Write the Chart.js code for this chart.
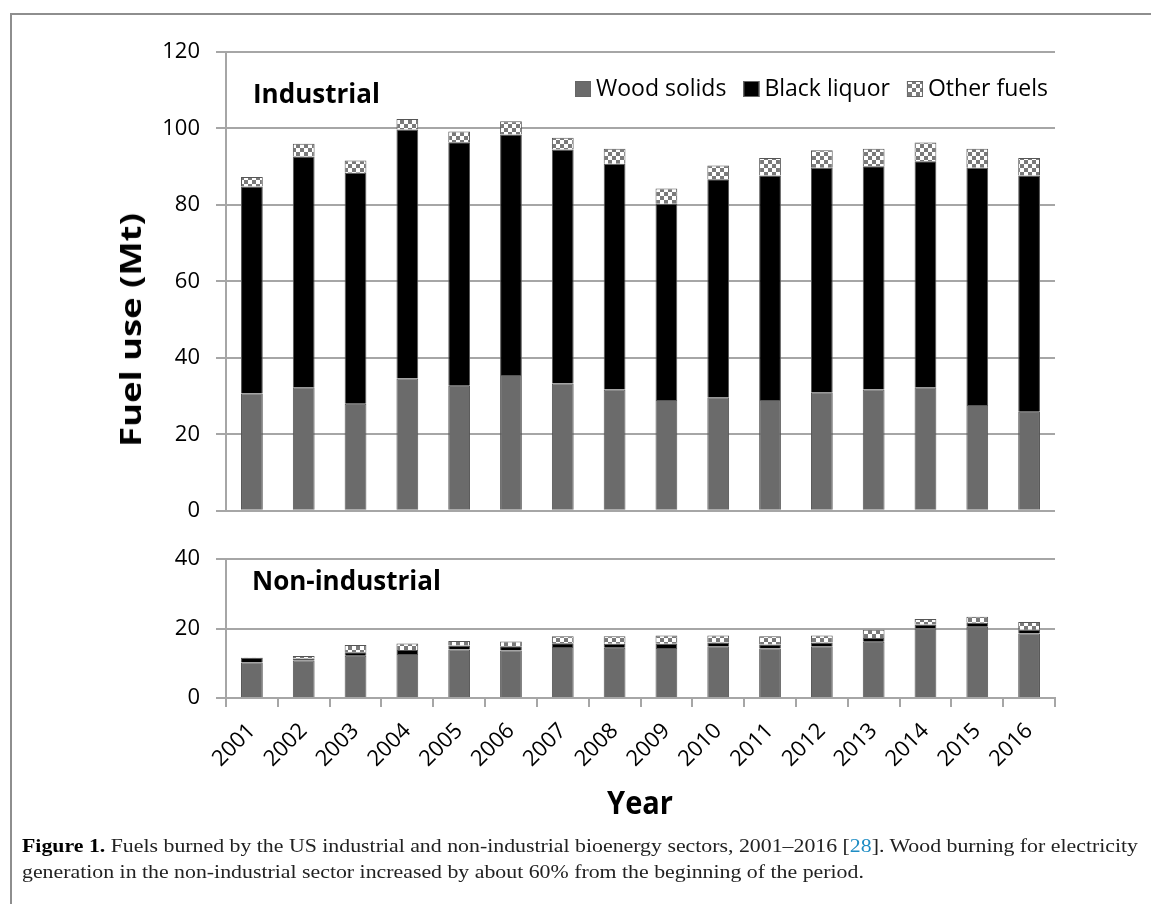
<!DOCTYPE html>
<html>
<head>
<meta charset="utf-8">
<script src="https://cdn.jsdelivr.net/npm/chart.js@4.4.1/dist/chart.umd.min.js"></script>
<style>
  body { margin: 0; background: #fff; width: 1151px; height: 904px; overflow: hidden; position: relative; font-family: "Open Sans", sans-serif; }
  #frame { position: absolute; left: 10px; top: 13px; right: -10px; bottom: -10px; border-top: 2px solid #8e8e8e; border-left: 2px solid #8e8e8e; }
  canvas { position: absolute; left: 0; }
  #topChart { top: 0; }
  #bottomChart { top: 530px; }
  .lbl { position: absolute; font-weight: 700; color: #000; white-space: nowrap; line-height: 1; }
  #ytitle { left: 130px; top: 330px; font-size: 28px; transform: translate(-50%, -50%) rotate(-90deg) scaleX(1.3); }
  #xtitle { left: 640px; top: 787px; font-size: 29px; transform: translateX(-50%) scaleY(1.1); }
  #caption { position: absolute; left: 22px; top: 833px; font-family: "Liberation Serif", serif; font-size: 19px; line-height: 26px; color: #222; transform-origin: 0 0; white-space: nowrap; }
  #caption b { color: #000; }
  #caption .ref { color: #1f8dc4; }
</style>
</head>
<body>
<div id="frame"></div>
<canvas id="topChart" width="1151" height="540"></canvas>
<canvas id="bottomChart" width="1151" height="374"></canvas>
<div class="lbl" style="left:253px;top:80px;font-size:26px">Industrial</div>
<div class="lbl" style="left:252px;top:567px;font-size:26px">Non-industrial</div>
<div class="lbl" id="ytitle">Fuel use (Mt)</div>
<div class="lbl" id="xtitle">Year</div>
<div id="caption">
  <div id="cap1"><b>Figure 1.</b> Fuels burned by the US industrial and non-industrial bioenergy sectors, 2001–2016 [<span class="ref">28</span>]. Wood burning for electricity</div>
  <div>generation in the non-industrial sector increased by about 60% from the beginning of the period.</div>
</div>
<script>
const years = ["2001", "2002", "2003", "2004", "2005", "2006", "2007", "2008",
  "2009", "2010", "2011", "2012", "2013", "2014", "2015", "2016"];

// Industrial sector (Mt)
const indWood = [30.7, 32.3, 28.0, 34.6, 32.7, 35.5, 33.3, 31.7, 29.0, 29.7, 29.0, 31.0, 31.7, 32.3, 27.7, 25.9];
const indBlack = [54.1, 60.4, 60.4, 65.1, 63.7, 62.9, 61.2, 59.1, 51.3, 57.0, 58.7, 58.7, 58.4, 59.1, 62.0, 61.8];
const indOther = [2.5, 3.3, 3.2, 2.8, 2.8, 3.5, 3.1, 3.9, 4.0, 3.6, 4.6, 4.6, 4.6, 4.9, 5.0, 4.6];

// Non-industrial sector (Mt)
const nonWood = [10.2, 10.8, 12.2, 12.7, 14.0, 13.7, 14.7, 14.5, 14.4, 14.9, 14.3, 14.9, 16.2, 20.1, 20.5, 18.6];
const nonBlack = [1.4, 0.6, 1.0, 1.1, 1.1, 1.2, 1.1, 1.1, 1.2, 1.1, 1.1, 1.1, 1.1, 1.1, 1.2, 1.1];
const nonOther = [0.1, 0.7, 2.1, 1.9, 1.3, 1.4, 2.0, 2.2, 2.4, 2.0, 2.4, 2.0, 2.4, 1.6, 1.7, 2.2];

const seriesNames = ["Wood solids", "Black liquor", "Other fuels"];
const topTicks = { min: 0, max: 120, step: 20 };
const bottomTicks = { min: 0, max: 40, step: 20 };

const GRID = "#a6a6a6";
const FONT = "'Open Sans', sans-serif";

function checker() {
  const c = document.createElement("canvas");
  c.width = c.height = 8;
  const g = c.getContext("2d");
  g.fillStyle = "#fff";
  g.fillRect(0, 0, 8, 8);
  g.fillStyle = "#7a7a7a";
  g.fillRect(0, 0, 4, 4);
  g.fillRect(4, 4, 4, 4);
  return g.createPattern(c, "repeat");
}
const pattern = checker();
const fills = ["#6b6b6b", "#000000", pattern];

function datasets(wood, black, other) {
  return [wood, black, other].map((d, i) => ({
    label: seriesNames[i],
    data: d,
    backgroundColor: fills[i],
    borderColor: "#555",
    borderWidth: 1,
    barPercentage: 0.42,
    categoryPercentage: 1.0,
  }));
}

// legend drawn inside the plot area, read from the datasets
const innerLegend = {
  id: "innerLegend",
  afterDraw(chart, args, opts) {
    if (!opts.show) return;
    const ctx = chart.ctx;
    ctx.save();
    ctx.font = `23px ${FONT}`;
    ctx.textBaseline = "alphabetic";
    let x = opts.x;
    chart.data.datasets.forEach((ds) => {
      ctx.fillStyle = ds.backgroundColor;
      ctx.fillRect(x, opts.y - 15, 16, 16);
      ctx.strokeStyle = "#666";
      ctx.lineWidth = 1;
      ctx.strokeRect(x + 0.5, opts.y - 14.5, 15, 15);
      ctx.fillStyle = "#000";
      ctx.fillText(ds.label, x + 21, opts.y);
      x += 21 + ctx.measureText(ds.label).width + 17;
    });
    ctx.restore();
  },
};

function yScale(t, width) {
  return {
    stacked: true,
    min: t.min,
    max: t.max,
    afterFit: (s) => { s.width = width; },
    ticks: { stepSize: t.step, color: "#000", font: { family: FONT, size: 22 }, padding: 16 },
    grid: { color: GRID, lineWidth: 2, tickLength: 10, drawTicks: true },
    border: { display: true, color: GRID, width: 2 },
  };
}

new Chart(document.getElementById("topChart"), {
  type: "bar",
  data: { labels: years, datasets: datasets(indWood, indBlack, indOther) },
  plugins: [innerLegend],
  options: {
    responsive: false,
    animation: false,
    layout: { padding: { top: 52, bottom: 27, right: 96, left: 0 } },
    plugins: {
      legend: { display: false },
      tooltip: { enabled: false },
      innerLegend: { show: true, x: 575, y: 96 },
    },
    scales: {
      x: { stacked: true, display: false },
      y: yScale(topTicks, 226),
    },
  },
});

new Chart(document.getElementById("bottomChart"), {
  type: "bar",
  data: { labels: years, datasets: datasets(nonWood, nonBlack, nonOther) },
  plugins: [innerLegend],
  options: {
    responsive: false,
    animation: false,
    layout: { padding: { top: 15, bottom: 0, right: 96, left: 0 } },
    plugins: {
      legend: { display: false },
      tooltip: { enabled: false },
      innerLegend: { show: false },
    },
    scales: {
      x: {
        stacked: true,
        afterFit: (s) => { s.height = 206; },
        ticks: {
          color: "#000",
          font: { family: FONT, size: 22 },
          minRotation: 45,
          maxRotation: 45,
          autoSkip: false,
          padding: 11,
        },
        grid: { color: GRID, lineWidth: 2, drawOnChartArea: false, drawTicks: true, tickLength: 9 },
        border: { display: true, color: GRID, width: 2 },
      },
      y: yScale(bottomTicks, 226),
    },
  },
});

// fit the caption's first line to the figure width
const cap = document.getElementById("caption");
const range = document.createRange();
range.selectNodeContents(document.getElementById("cap1"));
const lineW = range.getBoundingClientRect().width;
cap.style.transform = `scaleX(${1116 / lineW})`;
</script>
</body>
</html>
